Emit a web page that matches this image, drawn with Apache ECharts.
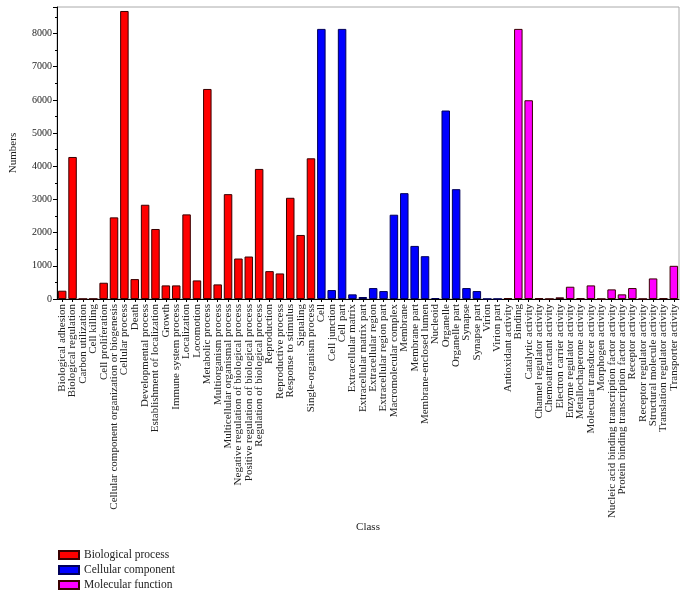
<!DOCTYPE html>
<html><head><meta charset="utf-8">
<script src="https://cdn.jsdelivr.net/npm/echarts@6/dist/echarts.min.js"></script>
<style>html,body{margin:0;padding:0;background:#fff}#c{width:686px;height:595px}</style>
</head><body><div id="c"></div>
<script>
const bioCats = ["Biological adhesion","Biological regulation","Carbon utilization","Cell killing","Cell proliferation","Cellular component organization or biogenesis","Cellular process","Death","Developmental process","Establishment of localization","Growth","Immune system process","Localization","Locomotion","Metabolic process","Multiorganism process","Multicellular organismal process","Negative regulation of biological process","Positive regulation of biological process","Regulation of biological process","Reproduction","Reproductive process","Response to stimulus","Signaling","Single-organism process"];
const bioVals = [250,4280,2,5,490,2460,8680,600,2840,2110,410,410,2550,560,6330,440,3160,1220,1280,3920,840,770,3050,1930,4240];
const cellCats = ["Cell","Cell junction","Cell part","Extracellular matrix","Extracellular matrix part","Extracellular region","Extracellular region part","Macromolecular complex","Membrane","Membrane part","Membrane-enclosed lumen","Nucleoid","Organelle","Organelle part","Synapse","Synapse part","Virion","Virion part"];
const cellVals = [8140,270,8140,140,60,330,240,2540,3190,1600,1290,30,5680,3310,330,240,3,3];
const molCats = ["Antioxidant activity","Binding","Catalytic activity","Channel regulator activity","Chemoattractant activity","Electron carrier activity","Enzyme regulator activity","Metallochaperone activity","Molecular transducer activity","Morphogen activity","Nucleic acid binding transcription factor activity","Protein binding transcription factor activity","Receptor activity","Receptor regulator activity","Structural molecule activity","Translation regulator activity","Transporter activity"];
const molVals = [30,8140,5990,20,2,50,370,20,410,2,290,140,330,3,620,20,1000];
const seriesNames = ["Biological process","Cellular component","Molecular function"];
const seriesColors = ["#ff0000","#0000ff","#ff00ff"];

const categories = bioCats.concat(cellCats, molCats);
const groups = [bioVals, cellVals, molVals];
let offset = 0;
const series = groups.map((vals, gi) => {
  const data = categories.map(() => '-');
  vals.forEach((v, i) => { data[offset + i] = v; });
  offset += vals.length;
  return {
    name: seriesNames[gi], type: 'bar', stack: 'all', data,
    barCategoryGap: '18%',
    itemStyle: { color: seriesColors[gi], borderColor: gi === 1 ? '#00005a' : '#3a0000', borderWidth: 1 }
  };
});
const font = '"Liberation Serif", "DejaVu Serif", serif';
const chart = echarts.init(document.getElementById('c'), null, {renderer: 'canvas'});
chart.setOption({
  animation: false,
  textStyle: { fontFamily: font },
  grid: { left: 52, right: 7, top: 7, bottom: 296, show: true, borderColor: '#aaaaaa', borderWidth: 1 },
  legend: {
    orient: 'vertical', left: 53, top: 544, height: 60, itemWidth: 20, itemHeight: 8, itemGap: 3,
    icon: 'rect', data: seriesNames,
    textStyle: { fontFamily: font, fontSize: 11.5, color: '#222' }
  },
  xAxis: {
    type: 'category', data: categories,
    name: 'Class', nameLocation: 'middle', nameGap: 204,
    nameTextStyle: { fontFamily: font, fontSize: 11, color: '#222' },
    axisLine: { lineStyle: { color: '#000' } },
    axisTick: { show: true, alignWithLabel: true, length: 3, lineStyle: { color: '#000' } },
    axisLabel: { interval: 0, rotate: 90, fontFamily: font, fontSize: 11, color: '#222', margin: 5 }
  },
  yAxis: {
    type: 'value', min: 0, max: 8800, interval: 1000,
    name: 'Numbers', nameLocation: 'middle', nameGap: 38,
    nameTextStyle: { fontFamily: font, fontSize: 11, color: '#222' },
    axisLine: { show: true, lineStyle: { color: '#000' } },
    axisTick: { show: true, length: 4, lineStyle: { color: '#000' } },
    minorTick: { show: true, splitNumber: 2, length: 2, lineStyle: { color: '#000' } },
    splitLine: { show: false },
    axisLabel: { showMaxLabel: false, formatter: v => String(v), fontFamily: font, fontSize: 10, color: '#222', margin: 5 }
  },
  series
});
</script></body></html>
